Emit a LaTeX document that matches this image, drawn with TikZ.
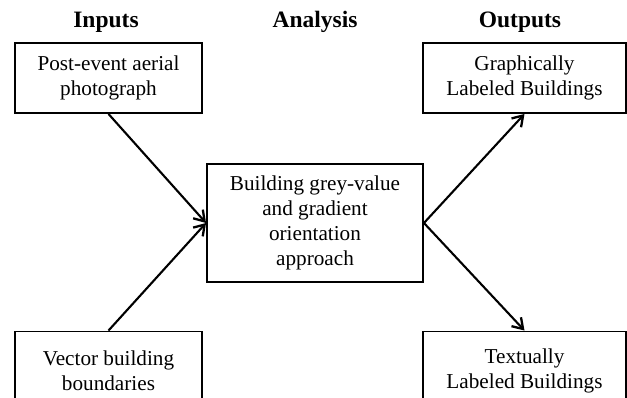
\documentclass[tikz,border=0pt]{standalone}
\usepackage{fontspec}
\setmainfont{Liberation Serif}
\usetikzlibrary{arrows.meta}
\begin{document}
\begin{tikzpicture}[x=1pt,y=-1pt,
  box/.style={draw,line width=1.9pt,align=center,inner sep=0pt,font=\fontsize{21.2}{25}\selectfont},
  head/.style={font=\fontsize{23.5}{27}\selectfont\bfseries},
  conn/.style={line width=2.1pt,-{Straight Barb[length=10pt,width=13pt,line width=2.3pt]}}]
\clip (0,0) rectangle (627,398);
\fill[white] (0,0) rectangle (627,398);
\node[head] (hin) at (106,22) {Inputs};
\node[head] (han) at (315,22) {Analysis};
\node[head] (hout) at (520,22) {Outputs};
\node[box,minimum width=187pt,minimum height=70pt] (tl) at (108.5,78) {Post-event aerial\\photograph};
\node[box,minimum width=187pt,minimum height=78pt] (bl) at (108.5,370.5) {Vector building\\boundaries};
\node[box,minimum width=216pt,minimum height=118pt] (c) at (315,223) {Building grey-value\\and gradient\\orientation\\approach};
\node[box,minimum width=203pt,minimum height=70pt] (tr) at (524.5,78) {Graphically\\Labeled Buildings};
\node[box,minimum width=203pt,minimum height=78pt] (br) at (524.5,370.5) {Textually\\Labeled Buildings};
\draw[conn] (tl.south) -- (c.west);
\draw[conn] (bl.north) -- (c.west);
\draw[conn] (c.east) -- (tr.south);
\draw[conn] (c.east) -- (br.north);
\end{tikzpicture}
\end{document}
